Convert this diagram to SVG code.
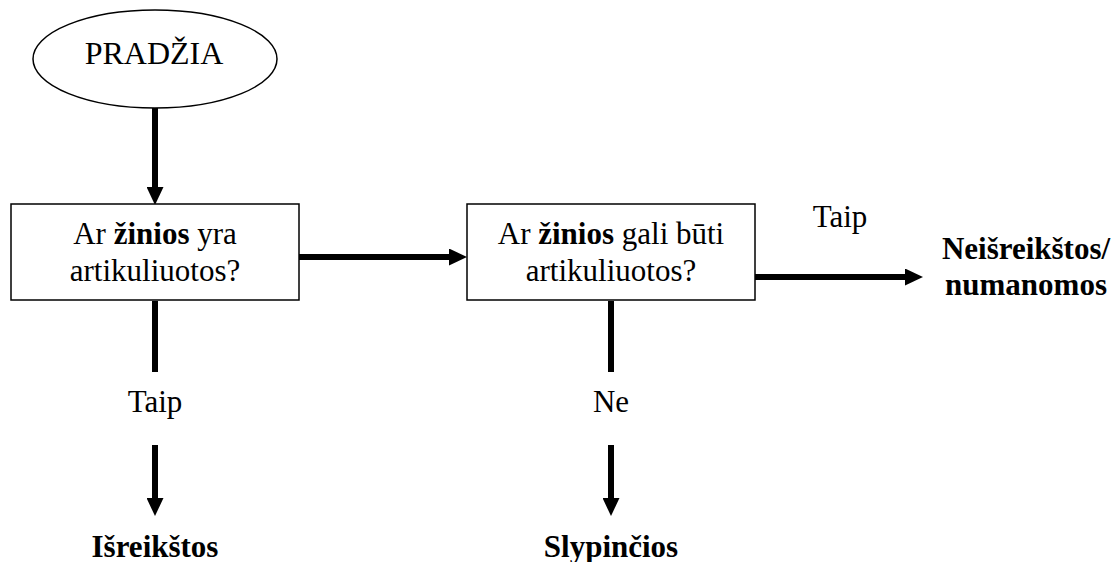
<svg xmlns="http://www.w3.org/2000/svg" width="1119" height="562" viewBox="0 0 1119 562">
  <style>
    .shape { fill: #fff; stroke: #000; stroke-width: 1.5; }
    .wire { stroke: #000; stroke-width: 6; fill: none; }
    text { font-family: 'Liberation Serif', 'Times New Roman', serif; font-size: 31px; fill: #000; text-anchor: middle; }
    .b { font-weight: bold; }
  </style>
  <defs>
    <marker id="head" markerUnits="userSpaceOnUse" markerWidth="18" markerHeight="17" refX="0" refY="8.5" orient="auto" viewBox="0 0 18 17">
      <path d="M0,0 L18,8.5 L0,17 z" fill="#000"/>
    </marker>
  </defs>
  <rect width="1119" height="562" fill="#fff"/>

  <g id="connectors">
    <line class="wire" x1="155" y1="108" x2="155" y2="187" marker-end="url(#head)"/>
    <line class="wire" x1="299" y1="257" x2="449" y2="257" marker-end="url(#head)"/>
    <line class="wire" x1="755" y1="277" x2="905" y2="277" marker-end="url(#head)"/>
    <line class="wire" x1="155" y1="301" x2="155" y2="372"/>
    <line class="wire" x1="155" y1="445" x2="155" y2="498" marker-end="url(#head)"/>
    <line class="wire" x1="611" y1="301" x2="611" y2="372"/>
    <line class="wire" x1="611" y1="445" x2="611" y2="498" marker-end="url(#head)"/>
  </g>

  <g id="start">
    <ellipse class="shape" cx="155" cy="59" rx="122" ry="49"/>
    <text x="154" y="64" style="font-size:32px">PRADŽIA</text>
  </g>

  <g id="q1">
    <rect class="shape" x="11" y="204" width="288" height="96"/>
    <text x="155" y="244">Ar <tspan class="b">žinios</tspan> yra</text>
    <text x="155" y="281">artikuliuotos?</text>
  </g>

  <g id="q2">
    <rect class="shape" x="467" y="204" width="288" height="96"/>
    <text x="611" y="244">Ar <tspan class="b">žinios</tspan> gali būti</text>
    <text x="611" y="281">artikuliuotos?</text>
  </g>

  <g id="label-yes-right">
    <text x="840" y="227">Taip</text>
  </g>

  <g id="tacit">
    <text class="b" x="1026" y="259">Neišreikštos/</text>
    <text class="b" x="1026" y="295">numanomos</text>
  </g>

  <g id="label-yes-down">
    <text x="155" y="412">Taip</text>
  </g>

  <g id="explicit">
    <text class="b" x="155" y="557">Išreikštos</text>
  </g>

  <g id="label-no">
    <text x="611" y="412">Ne</text>
  </g>

  <g id="hidden">
    <text class="b" x="611" y="557">Slypinčios</text>
  </g>
</svg>
